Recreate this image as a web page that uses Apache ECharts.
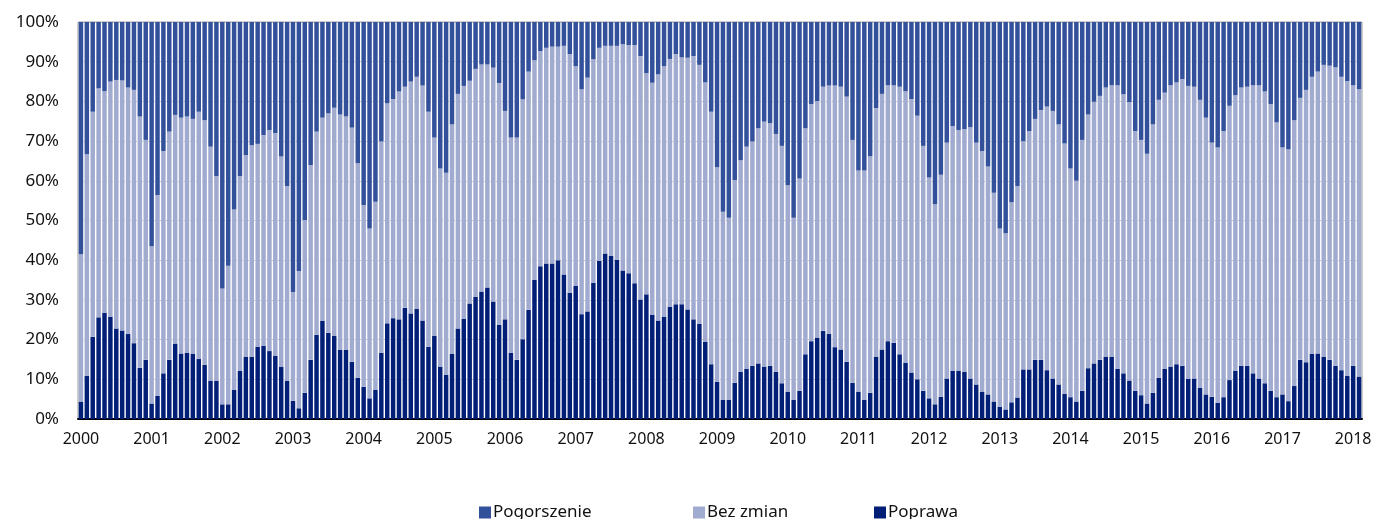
<!DOCTYPE html>
<html>
<head>
<meta charset="utf-8">
<script src="https://cdn.jsdelivr.net/npm/echarts@6/dist/echarts.min.js"></script>
<style>
  html, body { margin: 0; padding: 0; background: #fff; }
  #chart { width: 1376px; height: 519px; }
</style>
</head>
<body>
<div id="chart"></div>
<script>
// lata na osi X (etykieta przy styczniu każdego roku)
const years = ['2000','2001','2002','2003','2004','2005','2006','2007','2008','2009',
  '2010','2011','2012','2013','2014','2015','2016','2017','2018'];
const lastYearMonths = 2; // 2018: styczeń, luty

// udział odpowiedzi w %, miesięcznie od 2000-01
const poprawa = [
  4.4,10.9,20.7,25.6,26.7,25.7,22.8,22.3,21.4,19.1,12.9,14.9,
  3.9,5.8,11.5,14.9,19.0,16.5,16.7,16.4,15.1,13.6,9.6,9.6,
  3.7,3.7,7.3,12.1,15.7,15.7,18.2,18.4,17.1,15.9,13.2,9.6,
  4.6,2.7,6.6,14.9,21.2,24.7,21.7,20.9,17.4,17.4,14.4,10.4,
  8.1,5.2,7.3,16.7,24.1,25.4,25.1,28.0,26.6,27.7,24.8,18.2,
  21.0,13.2,11.1,16.4,22.8,25.2,29.1,30.8,32.1,33.1,29.6,23.7,
  25.1,16.7,14.9,20.1,27.5,35.0,38.5,39.2,39.2,40.0,36.4,31.8,
  33.5,26.4,27.1,34.3,39.8,41.7,41.1,40.1,37.4,36.7,34.2,30.1,
  31.4,26.2,24.8,25.8,28.3,28.9,28.9,27.6,25.1,24.0,19.5,13.8,
  9.4,4.8,4.8,9.1,11.9,12.6,13.4,14.0,13.2,13.4,11.9,9.0,
  6.9,4.8,7.1,16.3,19.6,20.5,22.2,21.4,18.1,17.5,14.4,9.1,
  6.9,4.8,6.6,15.7,17.5,19.6,19.2,16.3,14.2,11.7,10.0,7.1,
  5.2,3.7,5.6,10.2,12.1,12.1,11.9,10.2,8.7,6.9,6.2,4.4,
  3.1,2.4,4.2,5.4,12.5,12.5,14.9,14.9,12.3,10.2,8.7,6.3,
  5.5,4.4,7.1,12.8,14.0,14.9,15.7,15.7,12.6,11.5,9.7,7.1,
  6.0,3.9,6.6,10.4,12.6,13.2,13.8,13.4,10.1,10.2,7.9,6.2,
  5.6,4.1,5.5,9.8,12.1,13.4,13.4,11.5,10.2,9.0,7.1,5.5,
  6.2,4.5,8.3,14.9,14.3,16.4,16.5,15.7,14.9,13.4,12.3,10.9,
  13.4,10.7
];
const bezZmian = [
  37.1,55.8,56.7,57.7,55.9,59.3,62.6,63.0,62.1,63.8,63.3,55.4,
  39.6,50.6,56.0,57.5,57.6,59.4,59.5,59.2,62.3,61.7,59.0,51.6,
  29.2,34.9,45.5,49.1,50.8,53.3,51.1,53.1,55.7,56.1,52.9,49.1,
  27.4,34.6,43.5,49.1,51.2,51.2,55.3,57.5,59.3,58.8,59.0,54.0,
  45.8,42.8,47.4,53.2,55.4,55.2,57.4,55.7,58.4,58.5,59.2,59.2,
  49.9,49.9,50.9,57.8,59.1,58.7,56.1,57.4,57.2,56.2,58.9,60.9,
  52.5,54.2,56.0,60.4,60.0,55.4,54.2,54.3,54.6,53.8,57.6,60.1,
  55.4,56.7,58.9,56.3,53.7,52.3,52.9,53.9,57.0,57.5,60.0,61.3,
  55.7,58.5,62.0,63.1,62.4,63.0,62.2,63.4,66.3,65.2,65.3,63.6,
  54.0,47.4,45.9,51.1,53.3,56.0,56.5,59.2,61.7,61.1,59.9,59.8,
  52.0,45.9,53.5,56.9,59.7,59.6,61.5,62.6,65.9,66.2,66.8,61.2,
  55.7,57.8,59.6,62.6,64.4,64.5,64.9,67.4,68.4,68.9,66.4,61.7,
  55.6,50.4,55.9,59.4,61.7,60.7,61.1,63.3,60.9,60.6,57.4,52.6,
  44.9,44.4,50.4,53.3,57.5,60.0,60.7,62.9,66.4,67.4,65.5,63.1,
  57.6,55.6,63.2,63.9,65.9,66.5,67.8,68.4,71.5,70.3,70.1,65.4,
  64.3,62.9,67.6,70.0,69.6,70.9,71.0,72.2,73.8,73.5,72.5,69.7,
  64.0,64.3,67.0,69.1,69.5,70.1,70.3,72.6,73.9,73.5,72.2,69.2,
  62.2,63.4,67.0,66.0,68.6,69.8,71.0,73.5,74.1,75.2,73.9,74.2,
  70.7,72.4
];
const pogorszenie = [
  58.5,33.3,22.6,16.7,17.4,15.0,14.6,14.7,16.5,17.1,23.8,29.7,
  56.5,43.6,32.5,27.6,23.4,24.1,23.8,24.4,22.6,24.7,31.4,38.8,
  67.1,61.4,47.2,38.8,33.5,31.0,30.7,28.5,27.2,28.0,33.9,41.3,
  68.0,62.7,49.9,36.0,27.6,24.1,23.0,21.6,23.3,23.8,26.6,35.6,
  46.1,52.0,45.3,30.1,20.5,19.4,17.5,16.3,15.0,13.8,16.0,22.6,
  29.1,36.9,38.0,25.8,18.1,16.1,14.8,11.8,10.7,10.7,11.5,15.4,
  22.4,29.1,29.1,19.5,12.5,9.6,7.3,6.5,6.2,6.2,6.0,8.1,
  11.1,16.9,14.0,9.4,6.5,6.0,6.0,6.0,5.6,5.8,5.8,8.6,
  12.9,15.3,13.2,11.1,9.3,8.1,8.9,9.0,8.6,10.8,15.2,22.6,
  36.6,47.8,49.3,39.8,34.8,31.4,30.1,26.8,25.1,25.5,28.2,31.2,
  41.1,49.3,39.4,26.8,20.7,19.9,16.3,16.0,16.0,16.3,18.8,29.7,
  37.4,37.4,33.8,21.7,18.1,15.9,15.9,16.3,17.4,19.4,23.6,31.2,
  39.2,45.9,38.5,30.4,26.2,27.2,27.0,26.5,30.4,32.5,36.4,43.0,
  52.0,53.2,45.4,41.3,30.0,27.5,24.4,22.2,21.3,22.4,25.8,30.6,
  36.9,40.0,29.7,23.3,20.1,18.6,16.5,15.9,15.9,18.2,20.2,27.5,
  29.7,33.2,25.8,19.6,17.8,15.9,15.2,14.4,16.1,16.3,19.6,24.1,
  30.4,31.6,27.5,21.1,18.4,16.5,16.3,15.9,15.9,17.5,20.7,25.3,
  31.6,32.1,24.7,19.1,17.1,13.8,12.5,10.8,11.0,11.4,13.8,14.9,
  15.9,16.9
];

const months = [];
years.forEach((y, i) => {
  const n = i === years.length - 1 ? lastYearMonths : 12;
  for (let m = 1; m <= n; m++) months.push(y + '-' + (m < 10 ? '0' + m : m));
});

const font = 'Noto Sans';
const legendItem = (name, left) => ({
  data: [name], left: left, top: 499,
  itemWidth: 12, itemHeight: 12, icon: 'rect',
  textStyle: { fontFamily: font, fontSize: 17, color: '#111', padding: [0, 0, 0, -3] }
});

const chart = echarts.init(document.getElementById('chart'));

chart.setOption({
  animation: false,
  textStyle: { fontFamily: font },
  grid: {
    left: 78, right: 14, top: 22, bottom: 100,
    show: true, borderColor: '#9a9a9a', borderWidth: 1
  },
  legend: [
    legendItem('Pogorszenie', 474),
    legendItem('Bez zmian', 688),
    legendItem('Poprawa', 869)
  ],
  xAxis: {
    type: 'category',
    data: months,
    axisLine: { lineStyle: { color: '#000', width: 2 } },
    axisTick: { show: false },
    axisLabel: {
      interval: (idx) => idx % 12 === 0,
      formatter: (v) => v.slice(0, 4),
      fontFamily: font, fontSize: 16, color: '#111', margin: 12
    }
  },
  yAxis: {
    type: 'value',
    min: 0, max: 100, interval: 10,
    axisLine: { show: false },
    axisTick: { show: false },
    axisLabel: { formatter: '{value}%', fontFamily: font, fontSize: 17, color: '#111', margin: 19 },
    splitLine: { lineStyle: { color: '#c8c8c8', type: 'dotted' } }
  },
  series: [
    { name: 'Poprawa', type: 'bar', stack: 'all', data: poprawa,
      barCategoryGap: '24%', itemStyle: { color: '#021f77' } },
    { name: 'Bez zmian', type: 'bar', stack: 'all', data: bezZmian,
      itemStyle: { color: '#a1abcf' } },
    { name: 'Pogorszenie', type: 'bar', stack: 'all', data: pogorszenie,
      itemStyle: { color: '#33509b' } }
  ]
});
</script>
</body>
</html>
